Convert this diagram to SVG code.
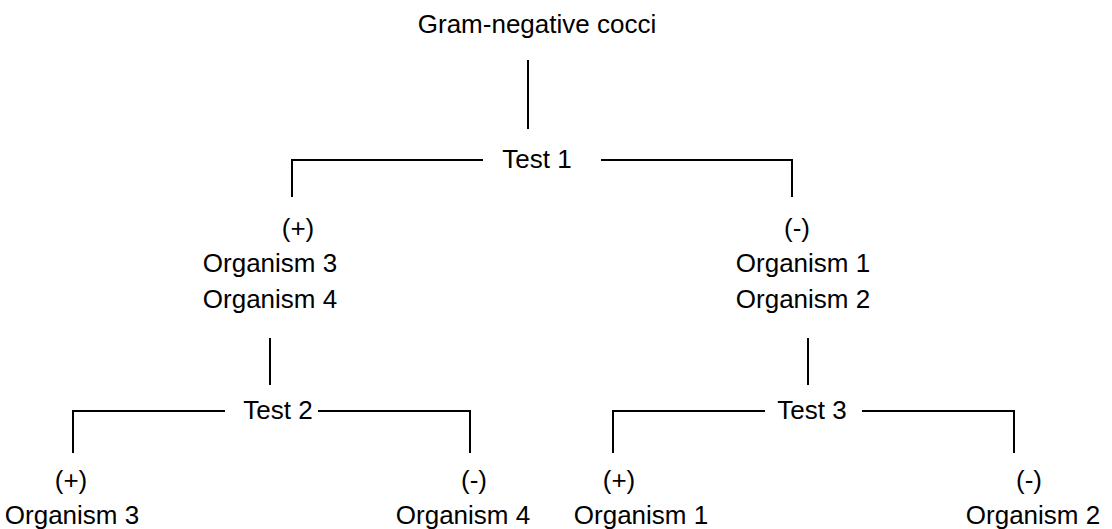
<svg xmlns="http://www.w3.org/2000/svg" width="1112" height="529" viewBox="0 0 1112 529">
<style>
text{font-family:"Liberation Sans",Arial,sans-serif;font-size:26px;fill:#000;text-anchor:middle}
.c{stroke:#000;stroke-width:2;fill:none}
</style>
<rect width="1112" height="529" fill="#fff"/>
<g id="connectors" class="c">
<path d="M528,60V129"/>
<path d="M292,197V160H483"/>
<path d="M601,160H792V197"/>
<path d="M270,338V385"/>
<path d="M73,453V411H225"/>
<path d="M318,411H470V453"/>
<path d="M808,338V385"/>
<path d="M613,453V411H765"/>
<path d="M862,411H1014V453"/>
</g>
<g id="root"><text x="537" y="33">Gram-negative cocci</text></g>
<g id="test1"><text x="537" y="168">Test 1</text></g>
<g id="pos1"><text x="298" y="237">(+)</text><text x="270" y="272">Organism 3</text><text x="270" y="308">Organism 4</text></g>
<g id="neg1"><text x="797" y="237">(-)</text><text x="803" y="272">Organism 1</text><text x="803" y="308">Organism 2</text></g>
<g id="test2"><text x="278" y="419">Test 2</text></g>
<g id="test3"><text x="812" y="419">Test 3</text></g>
<g id="pos2"><text x="71" y="489">(+)</text><text x="72" y="524">Organism 3</text></g>
<g id="neg2"><text x="474" y="489">(-)</text><text x="463" y="524">Organism 4</text></g>
<g id="pos3"><text x="619" y="489">(+)</text><text x="641" y="524">Organism 1</text></g>
<g id="neg3"><text x="1029" y="489">(-)</text><text x="1033" y="524">Organism 2</text></g>
</svg>
